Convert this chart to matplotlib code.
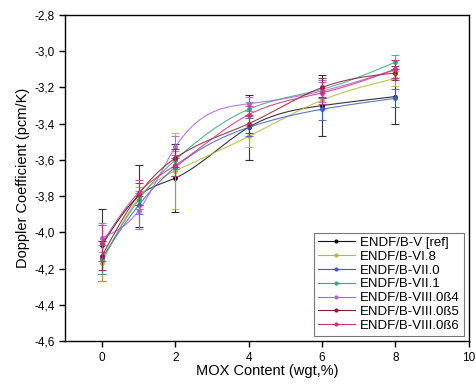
import numpy as np
import matplotlib
matplotlib.use("Agg")
import matplotlib.pyplot as plt
from matplotlib.ticker import FuncFormatter

plt.rcParams["font.family"] = ["Liberation Sans", "DejaVu Sans"]

mox = [0, 1, 2, 4, 6, 8]

labels = ["ENDF/B-V [ref]", "ENDF/B-VI.8", "ENDF/B-VII.0", "ENDF/B-VII.1",
          "ENDF/B-VIII.0ß4", "ENDF/B-VIII.0ß5", "ENDF/B-VIII.0ß6"]
colors = ["#111111", "#b8b832", "#3a5fcd", "#3aa87a", "#b060e0", "#8b1c2c", "#d0307a"]

endf_v = [-4.07, -3.80, -3.70, -3.42, -3.30, -3.25]
endf_vi8 = [-4.17, -3.81, -3.66, -3.47, -3.27, -3.15]
endf_vii0 = [-4.14, -3.85, -3.64, -3.42, -3.32, -3.26]
endf_vii1 = [-4.15, -3.82, -3.60, -3.32, -3.21, -3.06]
endf_viii4 = [-4.03, -3.88, -3.53, -3.29, -3.22, -3.10]
endf_viii5 = [-4.13, -3.79, -3.59, -3.40, -3.20, -3.12]
endf_viii6 = [-4.06, -3.78, -3.63, -3.35, -3.23, -3.10]

err_v = [0.20, 0.17, 0.19, 0.18, 0.17, 0.15]
err_vi8 = [0.10, 0.06, 0.21, 0.06, 0.05, 0.04]
err_vii0 = [0.09, 0.05, 0.05, 0.05, 0.06, 0.05]
err_vii1 = [0.08, 0.05, 0.05, 0.04, 0.05, 0.04]
err_viii4 = [0.08, 0.10, 0.06, 0.04, 0.06, 0.05]
err_viii5 = [0.08, 0.06, 0.05, 0.05, 0.05, 0.04]
err_viii6 = [0.10, 0.07, 0.06, 0.05, 0.06, 0.05]

series = [endf_v, endf_vi8, endf_vii0, endf_vii1, endf_viii4, endf_viii5, endf_viii6]
errors = [err_v, err_vi8, err_vii0, err_vii1, err_viii4, err_viii5, err_viii6]


# natural cubic spline, like the "spline" connect option in Origin
def spline(x, y, n=200):
    x = np.asarray(x, float)
    y = np.asarray(y, float)
    k = len(x)
    h = np.diff(x)
    A = np.zeros((k, k))
    b = np.zeros(k)
    A[0, 0] = 1
    A[-1, -1] = 1
    for i in range(1, k - 1):
        A[i, i - 1] = h[i - 1]
        A[i, i] = 2 * (h[i - 1] + h[i])
        A[i, i + 1] = h[i]
        b[i] = 3 * ((y[i + 1] - y[i]) / h[i] - (y[i] - y[i - 1]) / h[i - 1])
    c = np.linalg.solve(A, b)
    xs = np.linspace(x[0], x[-1], n)
    ys = np.empty_like(xs)
    for j, xv in enumerate(xs):
        i = min(np.searchsorted(x, xv, side="right") - 1, k - 2)
        d = xv - x[i]
        bi = (y[i + 1] - y[i]) / h[i] - h[i] * (2 * c[i] + c[i + 1]) / 3
        di = (c[i + 1] - c[i]) / (3 * h[i])
        ys[j] = y[i] + bi * d + c[i] * d ** 2 + di * d ** 3
    return xs, ys


fig = plt.figure(figsize=(4.76, 3.85), dpi=100)
ax = fig.add_axes([0.137, 0.114, 0.848, 0.847])

for vals, err, col, lab in zip(series, errors, colors, labels):
    xs, ys = spline(mox, vals)
    ax.plot(xs, ys, color=col, lw=0.8, alpha=0.85)
    ax.errorbar(mox, vals, yerr=err, fmt="none", ecolor=col, elinewidth=0.8,
                capsize=3, capthick=0.8, alpha=0.85)
    ax.plot(mox, vals, "o", color=col, ms=2.5)
    ax.plot([], [], "-o", color=col, lw=0.8, ms=2, label=lab)

ax.set_xlim(-1, 10)
ax.set_ylim(-4.6, -2.8)
ax.set_xticks([0, 2, 4, 6, 8, 10])
ax.set_yticks(np.arange(-4.6, -2.79, 0.2))
ax.yaxis.set_major_formatter(FuncFormatter(lambda v, p: ("%.1f" % v).replace(".", ",")))
ax.tick_params(direction="out", length=4, width=1, labelsize=8.5)
ax.tick_params(top=False, right=False)
for s in ax.spines.values():
    s.set_linewidth(1)

ax.set_xlabel("MOX Content (wgt,%)", fontsize=10.5, labelpad=0)
ax.set_ylabel("Doppler Coefficient (pcm/K)", fontsize=10.5, labelpad=3)

leg = ax.legend(loc="lower right", fontsize=9.5, frameon=True, fancybox=False,
                edgecolor="#555555", handlelength=2.8, labelspacing=0.12,
                borderaxespad=0.4, borderpad=0.3, handletextpad=0.4)
leg.get_frame().set_linewidth(0.8)

fig.savefig("out.png", dpi=100)
